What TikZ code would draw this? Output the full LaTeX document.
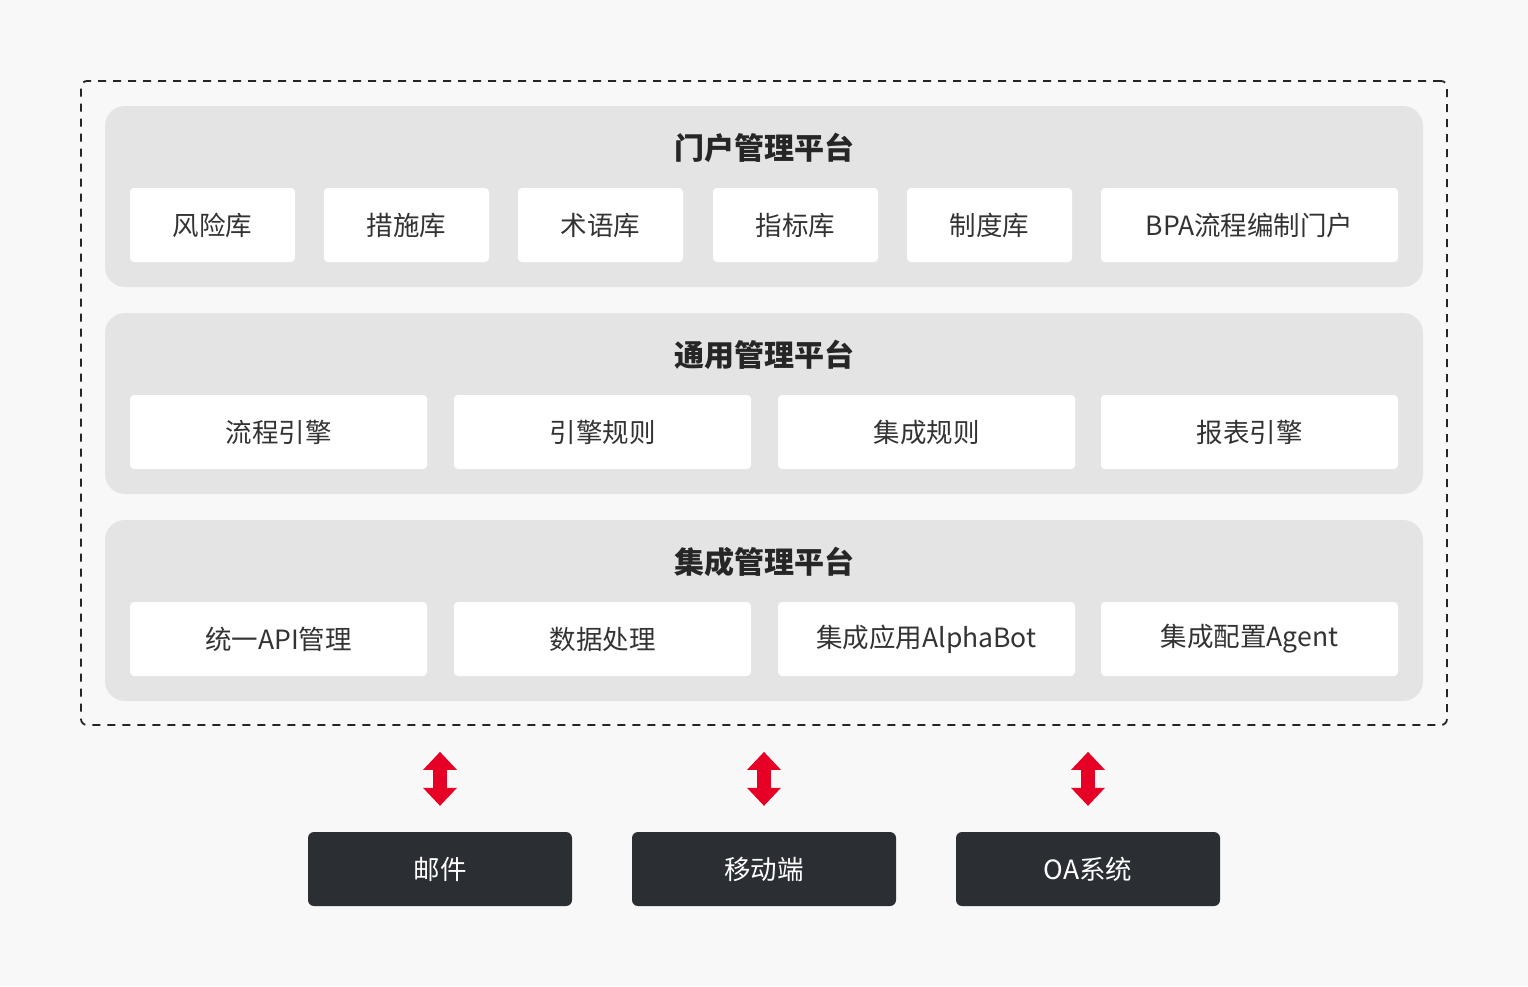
\documentclass[tikz,border=0pt]{standalone}
\usepackage{fontspec}
\setmainfont{Noto Sans CJK SC}
\usetikzlibrary{arrows.meta}
\definecolor{bg}{HTML}{F8F8F8}
\definecolor{panel}{HTML}{E4E4E4}
\definecolor{txt}{HTML}{333333}
\definecolor{dark}{HTML}{2B2F33}
\definecolor{accent}{HTML}{E60026}
\tikzset{
  panelbox/.style={fill=panel, rounded corners=20pt, minimum width=1318pt, minimum height=181pt, inner sep=0pt},
  title/.style={font=\fontsize{30}{34}\selectfont\bfseries, text=black!85},
  item/.style={fill=white, rounded corners=4pt, minimum height=74pt, inner sep=0pt, font=\fontsize{26.5}{30}\selectfont, text=txt},
  small/.style={item, minimum width=165pt},
  wide/.style={item, minimum width=297pt},
  ext/.style={fill=dark, rounded corners=6pt, minimum width=264pt, minimum height=74pt, inner sep=0pt, font=\fontsize{26.5}{30}\selectfont, text=white},
  link/.style={accent, line width=14pt, {Triangle[width=34pt,length=18pt,line width=0pt]}-{Triangle[width=34pt,length=18pt,line width=0pt]}, shorten <=26pt, shorten >=26pt}
}
\begin{document}
\begin{tikzpicture}[x=1pt,y=-1pt]
\fill[bg] (0,0) rectangle (1528,986);
\useasboundingbox (0,0) rectangle (1528,986);
\node[draw=black!85, line width=1.8pt, dash pattern=on 8pt off 7pt, rounded corners=6pt, minimum width=1366pt, minimum height=644pt, inner sep=0pt] (frame) at (764,403) {};
% panels
\node[panelbox] (p1) at (764,196.5) {};
\node[panelbox] (p2) at (764,403.5) {};
\node[panelbox] (p3) at (764,610.5) {};
\node[title] (t1) at (764,148) {门户管理平台};
\node[title] (t2) at (764,355) {通用管理平台};
\node[title] (t3) at (764,562) {集成管理平台};
% row 1
\node[small] (a1) at (212.5,225) {风险库};
\node[small] (a2) at (406.5,225) {措施库};
\node[small] (a3) at (600.5,225) {术语库};
\node[small] (a4) at (795.5,225) {指标库};
\node[small] (a5) at (989.5,225) {制度库};
\node[wide] (a6) at (1249.5,225) {BPA流程编制门户};
% row 2
\node[wide] (b1) at (278.5,432) {流程引擎};
\node[wide] (b2) at (602.5,432) {引擎规则};
\node[wide] (b3) at (926.5,432) {集成规则};
\node[wide] (b4) at (1249.5,432) {报表引擎};
% row 3
\node[wide] (c1) at (278.5,639) {统一API管理};
\node[wide] (c2) at (602.5,639) {数据处理};
\node[wide] (c3) at (926.5,639) {集成应用AlphaBot};
\node[wide] (c4) at (1249.5,639) {集成配置Agent};
% external systems
\node[ext] (mail) at (440,869) {邮件};
\node[ext] (mobile) at (764,869) {移动端};
\node[ext] (oa) at (1088,869) {OA系统};
% connectors
\draw[link] (mail.north) -- (mail.north |- frame.south);
\draw[link] (mobile.north) -- (mobile.north |- frame.south);
\draw[link] (oa.north) -- (oa.north |- frame.south);
\end{tikzpicture}
\end{document}
